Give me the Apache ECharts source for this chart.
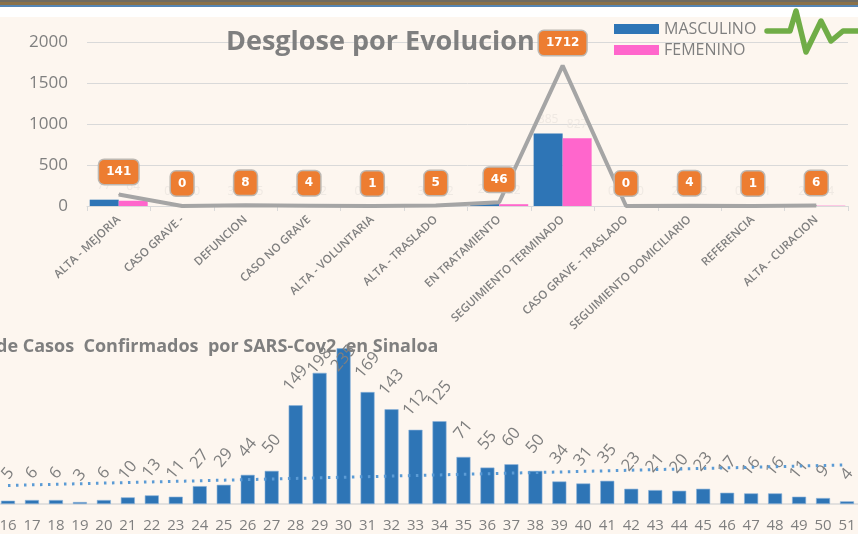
<!DOCTYPE html>
<html><head><meta charset="utf-8">
<style>html,body{margin:0;padding:0;background:#FDF6EF}#c{width:858px;height:534px}</style>
<script src="https://cdn.jsdelivr.net/npm/echarts@6/dist/echarts.min.js"></script>
</head><body><div id="c"></div>
<script>
const evolucion = ['ALTA - MEJORIA','CASO GRAVE -','DEFUNCION','CASO NO GRAVE','ALTA - VOLUNTARIA','ALTA - TRASLADO','EN TRATAMIENTO','SEGUIMIENTO TERMINADO','CASO GRAVE - TRASLADO','SEGUIMIENTO DOMICILIARIO','REFERENCIA','ALTA - CURACION'];
const masculino = [77,0,3,2,0,3,24,885,0,2,0,2];
const femenino  = [64,0,5,2,1,2,22,827,0,2,1,4];
const total     = [141,0,8,4,1,5,46,1712,0,4,1,6];
const semanas = ['16','17','18','19','20','21','22','23','24','25','26','27','28','29','30','31','32','33','34','35','36','37','38','39','40','41','42','43','44','45','46','47','48','49','50','51'];
const casos = [5,6,6,3,6,10,13,11,27,29,44,50,149,198,235,169,143,112,125,71,55,60,50,34,31,35,23,21,20,23,17,16,16,11,9,4];
const tendencia = [28,null,null,null,null,null,null,null,null,null,null,null,null,null,null,null,null,null,null,null,null,null,null,null,null,null,null,null,null,null,null,null,null,null,null,59];

const FONT = '"Open Sans","Noto Sans",sans-serif';
const GRAY = '#7F7F7F';
const faint = {show:true,position:'top',distance:8,color:'rgba(236,230,224,0.85)',fontSize:12,fontFamily:FONT};
// labels of the two tallest weeks sit lower, pushed down by the top of the plot
const labelDistance = {198:12, 235:-10};
const casosData = casos.map(v => labelDistance[v] === undefined ? v : {value:v,label:{distance:labelDistance[v]}});

const chart = echarts.init(document.getElementById('c'),null,{renderer:'canvas'});
chart.setOption({
  animation:false,
  backgroundColor:'#FDF6EF',
  textStyle:{fontFamily:FONT},
  title:[
    {text:'Desglose por Evolucion',left:221,top:24,textStyle:{fontFamily:FONT,fontWeight:'bold',fontSize:27,color:GRAY}},
    {text:'de Casos  Confirmados  por SARS-Cov2  en Sinaloa',left:-9,top:333,textStyle:{fontFamily:FONT,fontWeight:'bold',fontSize:18,color:GRAY}}
  ],
  legend:{data:['MASCULINO','FEMENINO'],orient:'vertical',left:609,top:16,itemWidth:45,itemHeight:10,itemGap:5,
    textStyle:{fontFamily:FONT,fontSize:16,color:GRAY},icon:'rect'},
  grid:[
    {left:87,width:761,top:42,height:164,outerBoundsMode:'none'},
    {left:-4,width:863,top:345,height:159,outerBoundsMode:'none'}
  ],
  xAxis:[
    {type:'category',gridIndex:0,data:evolucion,
      axisLine:{lineStyle:{color:'#D9D9D9',width:1}},
      axisTick:{show:true,alignWithLabel:false,length:5,lineStyle:{color:'#D9D9D9'}},
      axisLabel:{interval:0,rotate:43,fontSize:11.5,fontWeight:'600',color:GRAY,fontFamily:FONT,margin:12}},
    {type:'category',gridIndex:1,data:semanas,
      axisLine:{lineStyle:{color:'#D9D9D9',width:1.5}},axisTick:{show:false},
      axisLabel:{interval:0,fontSize:15,color:GRAY,fontFamily:FONT,margin:14}}
  ],
  yAxis:[
    {type:'value',gridIndex:0,min:0,max:2000,interval:500,
      axisLine:{show:false},axisTick:{show:false},
      splitLine:{lineStyle:{color:'#D9D9D9',width:1}},
      axisLabel:{fontSize:17,color:GRAY,fontFamily:FONT,margin:19,formatter:v=>String(v)}},
    {type:'value',gridIndex:1,min:0,max:240,show:false,splitLine:{show:false}}
  ],
  series:[
    {name:'MASCULINO',type:'bar',xAxisIndex:0,yAxisIndex:0,data:masculino,barWidth:29,barGap:'0%',itemStyle:{color:'#2E75B6'},label:faint},
    {name:'FEMENINO',type:'bar',xAxisIndex:0,yAxisIndex:0,data:femenino,barWidth:29,itemStyle:{color:'#FF66CC'},label:faint},
    {name:'Total',type:'line',xAxisIndex:0,yAxisIndex:0,data:total,symbol:'circle',symbolSize:1,showSymbol:true,showAllSymbol:true,z:5,
      itemStyle:{color:'#A5A5A5'},
      lineStyle:{color:'#A5A5A5',width:4},
      labelLayout:{hideOverlap:false},
      label:{show:true,position:'top',distance:10,color:'#fff',fontWeight:'bold',fontSize:12,fontFamily:'"DejaVu Sans",sans-serif',
        backgroundColor:'#ED7D31',borderColor:'#BDB8B2',borderWidth:1.5,borderRadius:5,padding:[6,7],lineHeight:12}},
    {name:'Casos',type:'bar',xAxisIndex:1,yAxisIndex:1,data:casosData,barWidth:14,
      itemStyle:{color:'#2E75B6',borderColor:'#8DB4DA',borderWidth:0.6},
      label:{show:true,position:'top',distance:27,rotate:50,align:'center',verticalAlign:'middle',fontSize:16.5,color:GRAY,fontFamily:FONT}},
    {name:'Tendencia',type:'line',xAxisIndex:1,yAxisIndex:1,data:tendencia,connectNulls:true,symbol:'none',z:4,
      lineStyle:{color:'#5B9BD5',width:3,type:[2.5,5.5]}}
  ],
  graphic:[
    {type:'rect',silent:true,shape:{x:0,y:0,width:858,height:17},style:{fill:'#ffffff'}},
    {type:'rect',silent:true,shape:{x:0,y:0,width:858,height:2},style:{fill:'#6E6A60'}},
    {type:'rect',silent:true,shape:{x:0,y:2,width:858,height:3},style:{fill:'#8A7148'}},
    {type:'rect',silent:true,shape:{x:0,y:5,width:858,height:2},style:{fill:'#5485B5'}},
    {type:'polyline',silent:true,z:10,shape:{points:[[767,31],[790,31],[796,11],[806,52],[821,21],[831,41],[843,31],[858,31]]},
      style:{stroke:'#70AD47',lineWidth:5.5,lineJoin:'round',lineCap:'round',fill:null}}
  ]
});
</script></body></html>
